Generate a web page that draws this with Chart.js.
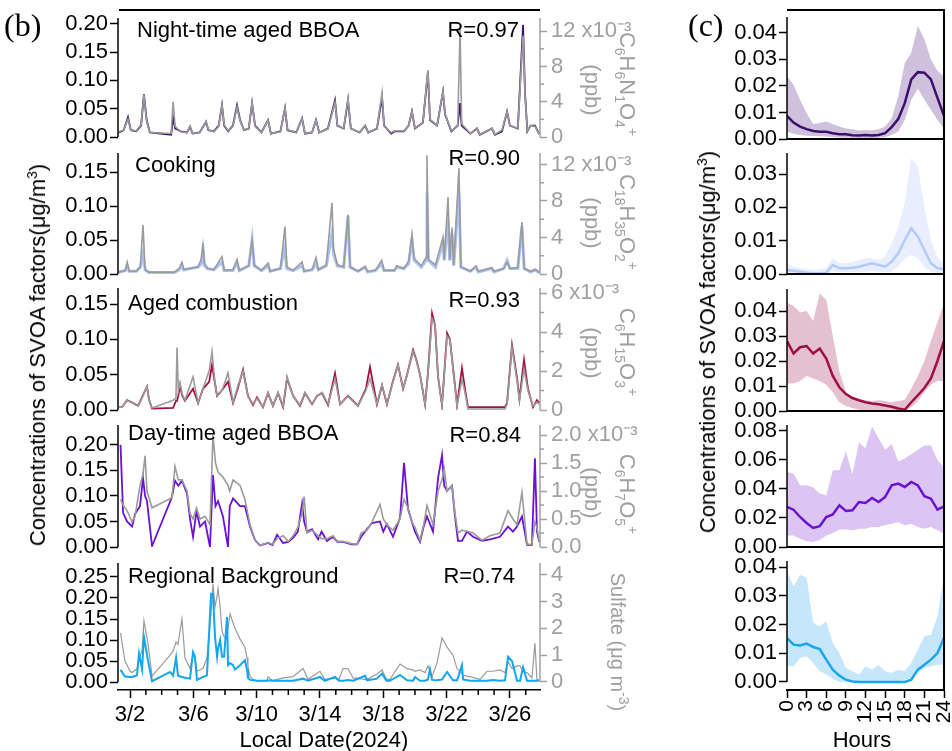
<!DOCTYPE html>
<html>
<head>
<meta charset="utf-8">
<script src="https://cdn.jsdelivr.net/npm/chart.js@4.4.1/dist/chart.umd.min.js"></script>
<style>
  body { margin: 0; background: #fff; }
  #page { position: relative; width: 952px; height: 751px; overflow: hidden;
          font-family: "Liberation Sans", Arial, sans-serif; color: #000; }
  canvas { position: absolute; top: 0; }
  .lbl { position: absolute; font-size: 22px; line-height: 22px; white-space: nowrap; }
  .serif { font-family: "Liberation Serif", "Times New Roman", serif; font-size: 32px; line-height: 32px; }
  .rotL, .rotR { position: absolute; font-size: 22px; line-height: 22px; white-space: nowrap; }
  .rotL { transform: translate(-50%, -50%) rotate(-90deg); }
  .rotR { transform: translate(-50%, -50%) rotate(90deg); color: #a0a0a0; }
  .ctr { transform: translateX(-50%); }
  .rgt { transform: translateX(-100%); }
  sub, sup { font-size: 14px; line-height: 0; }
  .hline, .vline { position: absolute; background: #000; }
</style>
</head>
<body>
<div id="page">
  <canvas id="b1" width="680" height="751" style="left:0"></canvas>
  <canvas id="b2" width="680" height="751" style="left:0"></canvas>
  <canvas id="b3" width="680" height="751" style="left:0"></canvas>
  <canvas id="b4" width="680" height="751" style="left:0"></canvas>
  <canvas id="b5" width="680" height="751" style="left:0"></canvas>
  <canvas id="c1" width="272" height="751" style="left:680px"></canvas>
  <canvas id="c2" width="272" height="751" style="left:680px"></canvas>
  <canvas id="c3" width="272" height="751" style="left:680px"></canvas>
  <canvas id="c4" width="272" height="751" style="left:680px"></canvas>
  <canvas id="c5" width="272" height="751" style="left:680px"></canvas>

  <div class="hline" style="left:119px;top:9px;width:421px;height:1.5px"></div>
  <div class="hline" style="left:787px;top:9px;width:158px;height:2px"></div>
  <div class="vline" style="left:943px;top:9px;width:2px;height:682px"></div>

  <div class="lbl serif" style="left:4px;top:9px">(b)</div>
  <div class="lbl serif" style="left:688px;top:9px">(c)</div>

  <div class="lbl" style="left:137px;top:19px">Night-time aged BBOA</div>
  <div class="lbl rgt" style="left:519px;top:19px">R=0.97</div>
  <div class="lbl" style="left:135px;top:154px">Cooking</div>
  <div class="lbl rgt" style="left:520px;top:147px">R=0.90</div>
  <div class="lbl" style="left:128px;top:292px">Aged combustion</div>
  <div class="lbl rgt" style="left:520px;top:289px">R=0.93</div>
  <div class="lbl" style="left:128px;top:422px">Day-time aged BBOA</div>
  <div class="lbl rgt" style="left:521px;top:424px">R=0.84</div>
  <div class="lbl" style="left:128px;top:565px">Regional Background</div>
  <div class="lbl rgt" style="left:515px;top:565px">R=0.74</div>

  <div class="rotL" style="left:38px;top:355px">Concentrations of SVOA factors(μg/m<sup>3</sup>)</div>
  <div class="rotL" style="left:708px;top:342px">Concentrations of SVOA factors(μg/m<sup>3</sup>)</div>

  <div class="rotR" style="left:592px;top:90px">(ppb)</div>
  <div class="rotR" style="left:627px;top:84px">C<sub>6</sub>H<sub>6</sub>N<sub>1</sub>O<sub>4</sub><sup>+</sup></div>
  <div class="rotR" style="left:592px;top:223px">(ppb)</div>
  <div class="rotR" style="left:627px;top:222px">C<sub>18</sub>H<sub>35</sub>O<sub>2</sub><sup>+</sup></div>
  <div class="rotR" style="left:592px;top:353px">(ppb)</div>
  <div class="rotR" style="left:627px;top:352px">C<sub>6</sub>H<sub>15</sub>O<sub>3</sub><sup>+</sup></div>
  <div class="rotR" style="left:592px;top:493px">(ppb)</div>
  <div class="rotR" style="left:627px;top:494px">C<sub>6</sub>H<sub>7</sub>O<sub>5</sub><sup>+</sup></div>
  <div class="rotR" style="left:618px;top:642px;font-size:20px">Sulfate (μg m<sup>-3</sup>)</div>

  <div class="lbl ctr" style="left:324px;top:729px">Local Date(2024)</div>
  <div class="lbl ctr" style="left:862px;top:729px">Hours</div>
</div>

<script>
// ---- time series, panel (b): day of March 2024, factor (μg/m3), tracer ----
const nightDays = [1.30,1.60,1.87,2.05,2.40,2.70,2.88,3.05,3.25,4.60,4.72,4.85,5.20,5.60,5.79,5.95,6.40,6.80,6.95,7.30,7.60,7.81,7.95,8.20,8.50,8.76,8.95,9.20,9.50,9.71,9.90,10.30,10.72,10.90,11.50,11.79,11.95,12.50,12.87,13.05,13.50,13.75,13.95,14.50,14.95,15.10,15.50,15.77,15.95,16.50,16.85,17.05,17.60,17.92,18.05,18.50,18.74,19.30,19.60,19.81,20.00,20.50,20.82,20.95,21.40,21.77,21.90,22.30,22.70,22.85,22.95,23.50,23.92,24.10,24.87,25.05,25.50,25.82,26.00,26.50,26.83,26.95,27.10,27.30,27.58,27.85];
const nightFactor = [0.008,0.012,0.035,0.012,0.010,0.020,0.076,0.030,0.008,0.004,0.035,0.015,0.010,0.008,0.018,0.006,0.008,0.027,0.012,0.010,0.020,0.056,0.020,0.010,0.020,0.056,0.030,0.012,0.015,0.060,0.020,0.008,0.030,0.006,0.010,0.051,0.012,0.008,0.033,0.006,0.008,0.030,0.008,0.015,0.065,0.020,0.015,0.065,0.015,0.008,0.020,0.008,0.015,0.070,0.020,0.006,0.010,0.010,0.020,0.045,0.015,0.025,0.115,0.030,0.020,0.080,0.040,0.010,0.020,0.060,0.020,0.006,0.015,0.004,0.015,0.004,0.010,0.045,0.020,0.015,0.198,0.080,0.010,0.020,0.020,0.005];
const nightTracer = [0.6,0.8,2.0,0.8,0.7,1.4,4.8,1.8,0.5,0.4,4.0,1.2,0.6,0.5,1.2,0.4,0.5,1.8,0.8,0.6,1.2,3.6,1.4,0.7,1.2,3.4,1.8,0.8,1.0,3.9,1.2,0.5,1.9,0.4,0.6,3.3,0.8,0.5,2.1,0.4,0.5,1.9,0.5,0.9,3.9,1.3,1.0,4.4,1.0,0.5,1.3,0.5,1.0,5.0,1.2,0.5,0.7,0.7,1.3,2.9,1.0,1.6,7.6,2.0,1.3,5.2,2.6,0.7,1.2,12.2,1.5,0.4,1.0,0.3,1.0,0.3,0.8,2.9,1.3,1.0,11.5,5.0,0.7,1.3,1.2,0.3];

const cookDays = [1.30,1.70,1.82,1.95,2.40,2.65,2.82,2.95,3.20,4.80,5.10,5.28,5.40,5.80,6.30,6.50,6.61,6.70,6.90,7.30,7.81,7.95,8.50,8.76,8.90,9.50,9.71,9.85,10.30,10.72,10.85,11.50,11.79,11.90,12.30,12.87,13.00,13.50,13.75,13.90,14.40,14.76,14.85,15.10,15.50,15.77,15.90,16.40,16.85,17.00,17.50,17.90,18.05,18.70,18.85,19.30,19.60,19.81,19.95,20.40,20.70,20.76,20.85,21.30,21.77,21.85,22.09,22.20,22.34,22.45,22.78,22.90,23.50,23.85,24.00,24.85,25.00,25.60,25.82,26.00,26.50,26.76,26.90,27.30,27.60,27.85];
const cookFactor = [0.003,0.005,0.012,0.004,0.004,0.010,0.030,0.006,0.002,0.002,0.006,0.012,0.006,0.008,0.010,0.015,0.035,0.012,0.008,0.006,0.018,0.005,0.005,0.016,0.005,0.012,0.050,0.012,0.005,0.012,0.004,0.008,0.040,0.008,0.005,0.012,0.004,0.006,0.015,0.006,0.012,0.060,0.030,0.012,0.010,0.085,0.010,0.004,0.010,0.003,0.005,0.015,0.005,0.005,0.010,0.008,0.015,0.050,0.020,0.010,0.020,0.120,0.020,0.010,0.045,0.020,0.080,0.020,0.060,0.012,0.120,0.010,0.004,0.010,0.003,0.008,0.003,0.008,0.020,0.008,0.008,0.070,0.008,0.003,0.006,0.002];
const cookTracer = [0.2,0.4,1.3,0.3,0.3,0.8,5.4,0.5,0.2,0.2,0.6,1.3,0.5,0.6,0.8,1.6,3.4,1.2,0.6,0.5,1.9,0.4,0.5,1.6,0.4,0.9,3.7,1.0,0.4,1.2,0.3,0.6,5.2,0.8,0.4,1.3,0.3,0.5,1.8,0.5,1.0,7.8,2.8,1.0,0.8,6.5,0.8,0.3,0.8,0.3,0.4,1.5,0.4,0.4,0.9,0.6,1.4,4.3,1.7,0.9,1.8,13.0,1.6,1.0,4.0,1.6,8.4,1.5,5.1,1.0,11.6,0.8,0.3,0.9,0.3,0.7,0.3,0.6,1.3,0.6,0.7,5.7,0.6,0.3,0.5,0.2];

const agedDays = [1.30,1.49,1.81,2.19,2.51,2.80,3.07,3.20,3.39,4.72,4.90,4.97,5.05,5.16,5.30,5.47,5.98,6.30,6.61,7.00,7.18,7.35,7.50,7.81,8.19,8.51,8.80,9.14,9.45,9.77,10.02,10.40,10.72,11.03,11.35,11.67,11.92,12.30,12.74,13.05,13.50,13.81,14.13,14.51,14.95,15.27,15.77,16.40,16.90,17.16,17.60,17.92,18.23,18.60,18.93,19.25,19.50,19.88,20.10,20.32,20.64,20.82,21.08,21.27,21.46,21.71,22.03,22.21,22.47,22.66,22.97,23.16,23.35,24.50,25.69,25.82,26.13,26.45,26.60,26.89,27.14,27.46,27.71,27.85];
const agedFactor = [0.004,0.004,0.014,0.010,0.006,0.020,0.033,0.015,0.002,0.003,0.013,0.013,0.020,0.035,0.020,0.013,0.030,0.010,0.030,0.040,0.064,0.040,0.020,0.028,0.040,0.010,0.030,0.057,0.020,0.007,0.018,0.004,0.024,0.006,0.024,0.004,0.045,0.020,0.006,0.024,0.008,0.020,0.024,0.007,0.052,0.008,0.020,0.006,0.030,0.061,0.008,0.035,0.008,0.040,0.064,0.030,0.050,0.085,0.070,0.050,0.008,0.052,0.137,0.120,0.047,0.007,0.109,0.100,0.047,0.007,0.059,0.030,0.004,0.004,0.004,0.010,0.092,0.045,0.015,0.071,0.030,0.004,0.014,0.010];
const agedTracer = [0.15,0.15,0.5,0.35,0.2,0.7,1.2,0.5,0.1,0.5,0.6,3.2,1.0,1.4,0.8,0.5,1.7,0.35,1.1,2.0,3.0,1.5,0.7,1.0,1.9,0.4,1.2,2.0,0.7,0.3,0.6,0.15,0.9,0.2,0.9,0.2,1.7,0.7,0.25,0.9,0.3,0.7,0.9,0.3,1.6,0.3,0.7,0.2,1.0,1.6,0.3,1.3,0.3,1.4,2.3,1.1,1.8,3.0,2.5,1.8,0.3,1.8,4.7,4.4,1.7,0.25,3.8,3.6,1.6,0.2,1.6,0.9,0.05,0.05,0.05,0.3,3.2,1.5,0.5,2.1,1.0,0.2,0.4,0.3];

const dayDays = [1.40,1.56,1.81,2.13,2.32,2.63,2.82,2.95,3.07,3.39,4.65,4.84,5.05,5.28,5.60,5.79,5.98,6.20,6.42,6.74,7.05,7.24,7.40,7.56,7.87,8.19,8.30,8.51,8.95,9.26,9.58,9.90,10.21,10.72,11.00,11.29,11.67,12.00,12.30,12.60,12.87,13.00,13.18,13.50,13.88,14.10,14.44,14.82,15.10,15.46,16.00,16.34,16.60,16.97,17.29,17.79,18.00,18.23,18.61,19.06,19.31,19.56,19.80,20.00,20.32,20.55,20.76,21.14,21.46,21.71,21.85,22.03,22.34,22.53,22.72,22.97,23.29,23.67,24.24,24.74,25.37,25.88,26.19,26.45,26.76,27.08,27.39,27.58,27.71,27.85];
const dayFactor = [0.200,0.067,0.050,0.040,0.065,0.080,0.135,0.100,0.090,0.002,0.098,0.130,0.120,0.130,0.105,0.055,0.020,0.070,0.040,0.050,0.000,0.141,0.080,0.090,0.060,0.000,0.080,0.095,0.080,0.080,0.040,0.013,0.003,0.008,0.004,0.024,0.008,0.010,0.018,0.030,0.085,0.050,0.030,0.035,0.015,0.030,0.012,0.020,0.010,0.010,0.005,0.005,0.020,0.035,0.047,0.050,0.030,0.045,0.020,0.057,0.165,0.075,0.050,0.030,0.010,0.040,0.060,0.030,0.135,0.180,0.120,0.110,0.120,0.060,0.012,0.012,0.030,0.020,0.012,0.015,0.020,0.040,0.030,0.040,0.060,0.004,0.004,0.174,0.030,0.010];
const dayTracer = [0.85,0.75,0.65,0.45,0.55,1.10,1.30,1.63,1.00,0.70,0.88,1.44,1.20,1.20,1.00,0.60,0.50,0.70,0.50,0.55,0.40,2.00,1.50,1.34,1.25,1.10,1.00,1.20,1.10,0.85,0.40,0.12,0.03,0.08,0.05,0.15,0.20,0.10,0.20,0.35,0.60,0.90,0.25,0.30,0.20,0.15,0.15,0.20,0.10,0.10,0.06,0.05,0.25,0.30,0.45,0.76,0.50,0.40,0.30,0.50,0.85,0.70,0.45,0.35,0.12,0.40,0.74,0.40,1.00,1.20,1.40,1.00,1.10,0.60,0.25,0.30,0.28,0.25,0.12,0.20,0.25,0.65,0.50,0.40,0.98,0.05,0.05,0.45,0.35,0.10];

const regDays = [1.40,1.68,2.00,2.13,2.44,2.57,2.76,2.88,3.14,3.39,4.53,4.72,4.91,5.03,5.28,5.47,5.79,5.98,6.10,6.23,6.61,6.86,7.12,7.24,7.37,7.50,7.56,7.69,7.81,7.94,8.13,8.19,8.32,8.51,8.63,8.95,9.26,9.39,9.45,9.58,9.77,10.02,10.65,10.72,11.00,11.67,12.30,12.93,13.24,14.00,14.30,14.95,15.20,15.46,15.77,16.09,16.85,16.97,17.60,17.92,18.20,18.42,19.06,19.50,19.88,20.00,20.32,20.64,20.82,20.95,21.08,21.39,21.71,22.03,22.40,22.66,22.97,23.04,23.48,24.11,24.55,24.93,25.37,25.69,25.88,26.13,26.45,26.64,26.83,27.08,27.39,27.58,27.71,27.85];
const regFactor = [0.029,0.013,0.012,0.012,0.016,0.068,0.030,0.107,0.050,0.002,0.024,0.015,0.058,0.015,0.012,0.010,0.008,0.071,0.060,0.005,0.012,0.016,0.210,0.210,0.107,0.060,0.080,0.100,0.060,0.060,0.155,0.040,0.045,0.040,0.030,0.040,0.052,0.030,0.010,0.005,0.004,0.003,0.003,0.004,0.003,0.003,0.003,0.008,0.003,0.012,0.003,0.012,0.003,0.003,0.005,0.003,0.015,0.004,0.008,0.020,0.003,0.003,0.017,0.004,0.003,0.012,0.003,0.003,0.006,0.030,0.005,0.004,0.006,0.024,0.004,0.004,0.040,0.006,0.003,0.003,0.003,0.005,0.003,0.004,0.060,0.050,0.003,0.003,0.035,0.003,0.003,0.003,0.003,0.005];
const regSulfate = [1.83,0.78,0.40,0.35,0.50,0.80,1.20,2.28,1.40,0.22,1.00,1.16,1.50,1.40,2.35,0.90,0.50,1.00,0.90,0.40,0.50,0.90,2.60,3.66,2.80,3.20,3.50,2.80,1.90,1.70,1.60,2.00,2.54,2.20,2.00,1.60,1.30,0.90,0.60,0.20,0.10,0.04,0.05,0.20,0.05,0.15,0.20,0.50,0.10,0.40,0.10,0.15,0.10,0.50,0.50,0.15,0.10,0.10,0.30,0.45,0.10,0.10,0.67,0.50,0.45,0.40,0.45,0.35,0.60,0.40,0.20,0.70,1.64,1.30,1.00,0.50,0.30,0.25,0.20,0.10,0.40,0.40,0.45,0.35,0.75,0.50,0.60,0.60,0.40,0.35,0.15,1.45,0.05,0.05];

const dateTickDays = [2, 6, 10, 14, 18, 22, 26];
const dateTickLabels = ['3/2', '3/6', '3/10', '3/14', '3/18', '3/22', '3/26'];

// ---- diurnal cycles, panel (c): mean with shaded range ----
const hours = [0,1,2,3,4,5,6,7,8,9,10,11,12,13,14,15,16,17,18,19,20,21,22,23,24];
const nightMean = [0.0087,0.0062,0.0047,0.0037,0.0030,0.0027,0.0027,0.0022,0.0018,0.0018,0.0014,0.0013,0.0015,0.0013,0.0015,0.0022,0.0045,0.0075,0.0135,0.0225,0.0252,0.0250,0.0225,0.0155,0.0087];
const nightHigh = [0.0237,0.0205,0.0148,0.0097,0.0057,0.0060,0.0066,0.0057,0.0047,0.0040,0.0037,0.0032,0.0034,0.0032,0.0037,0.0047,0.0078,0.0160,0.0287,0.0325,0.0427,0.0376,0.0300,0.0256,0.0237];
const nightLow = [0.0028,0.0020,0.0015,0.0012,0.0011,0.0010,0.0009,0.0008,0.0006,0.0005,0.0005,0.0004,0.0004,0.0004,0.0005,0.0008,0.0015,0.0028,0.0072,0.0148,0.0190,0.0148,0.0110,0.0072,0.0040];

const cookMean = [0.0012,0.0010,0.0007,0.0004,0.0002,0.0002,0.0004,0.0027,0.0017,0.0017,0.0019,0.0022,0.0027,0.0032,0.0027,0.0022,0.0037,0.0062,0.0102,0.0137,0.0112,0.0072,0.0032,0.0017,0.0014];
const cookHigh = [0.0032,0.0022,0.0017,0.0014,0.0012,0.0014,0.0017,0.0047,0.0032,0.0032,0.0037,0.0042,0.0047,0.0047,0.0042,0.0052,0.0092,0.0142,0.0212,0.0347,0.0322,0.0202,0.0102,0.0047,0.0032];
const cookLow = [0.0002,0.0002,0.0001,0.0001,0.0000,0.0000,0.0001,0.0008,0.0005,0.0005,0.0005,0.0006,0.0007,0.0008,0.0007,0.0006,0.0007,0.0022,0.0047,0.0057,0.0047,0.0022,0.0007,0.0002,0.0002];

const agedMean = [0.0280,0.0230,0.0255,0.0260,0.0230,0.0250,0.0210,0.0140,0.0095,0.0068,0.0052,0.0043,0.0035,0.0030,0.0027,0.0022,0.0017,0.0010,0.0005,0.0035,0.0063,0.0092,0.0130,0.0200,0.0280];
const agedHigh = [0.0434,0.0420,0.0395,0.0400,0.0360,0.0470,0.0445,0.0300,0.0160,0.0075,0.0055,0.0045,0.0043,0.0040,0.0043,0.0040,0.0035,0.0040,0.0045,0.0090,0.0140,0.0200,0.0280,0.0356,0.0430];
const agedLow = [0.0110,0.0110,0.0120,0.0140,0.0130,0.0120,0.0105,0.0075,0.0035,0.0020,0.0012,0.0005,0.0003,0.0002,0.0002,0.0002,0.0002,0.0002,0.0002,0.0015,0.0040,0.0075,0.0105,0.0120,0.0120];

const dayMean = [0.0276,0.0257,0.0207,0.0166,0.0131,0.0143,0.0207,0.0225,0.0287,0.0248,0.0253,0.0310,0.0303,0.0338,0.0310,0.0345,0.0425,0.0437,0.0414,0.0448,0.0425,0.0350,0.0333,0.0257,0.0280];
const dayHigh = [0.0517,0.0506,0.0425,0.0425,0.0410,0.0368,0.0356,0.0529,0.0529,0.0660,0.0500,0.0720,0.0680,0.0830,0.0750,0.0670,0.0710,0.0590,0.0610,0.0640,0.0670,0.0700,0.0700,0.0600,0.0550];
const dayLow = [0.0080,0.0080,0.0057,0.0040,0.0035,0.0046,0.0080,0.0097,0.0120,0.0120,0.0115,0.0126,0.0126,0.0138,0.0138,0.0150,0.0160,0.0172,0.0150,0.0160,0.0138,0.0126,0.0138,0.0115,0.0092];

const regMean = [0.0153,0.0130,0.0127,0.0134,0.0122,0.0115,0.0078,0.0043,0.0022,0.0008,0.0002,0,0,0,0,0,0,0,0,0.0008,0.0043,0.0060,0.0078,0.0101,0.0153];
const regHigh = [0.0386,0.0334,0.0374,0.0363,0.0206,0.0194,0.0212,0.0136,0.0101,0.0049,0.0037,0.0026,0.0055,0.0043,0.0060,0.0037,0.0031,0.0043,0.0037,0.0066,0.0113,0.0159,0.0165,0.0229,0.0369];
const regLow = [0.0055,0.0055,0.0084,0.0090,0.0066,0.0037,0.0026,0.0010,0,0,0,0,0,0,0,0,0,0,0.0008,0.0014,0.0031,0.0049,0.0055,0.0060,0.0060];

const GRAY = '#9b9b9b';
const AXIS_GRAY = '#a0a0a0';
const H = 751;

Chart.defaults.font.family = '"Liberation Sans", Arial, sans-serif';
Chart.defaults.font.size = 22;
Chart.defaults.color = '#000';

const pts = (xs, ys) => xs.map((x, i) => ({ x: x, y: ys[i] }));

// axis lines, minor ticks and zero baselines
const frame = {
  id: 'frame',
  afterDraw(chart, args, o) {
    const { ctx, chartArea: a, scales } = chart;
    const seg = (x1, y1, x2, y2, c, w) => {
      ctx.beginPath(); ctx.strokeStyle = c; ctx.lineWidth = w;
      ctx.moveTo(x1, y1); ctx.lineTo(x2, y2); ctx.stroke();
    };
    ctx.save();
    const y0 = scales.y.getPixelForValue(0);
    seg(a.left, a.top, a.left, y0, '#000', 1.5);
    if (o.zeroLine) seg(a.left, y0, a.right, y0, '#000', 2);
    const r = scales.y2;
    if (r) {
      seg(a.right, a.top, a.right, r.getPixelForValue(0), AXIS_GRAY, 1.5);
      if (o.minor) {
        for (let v = o.minor; v < r.max; v += o.minor) {
          const k = v / o.major;
          if (Math.abs(k - Math.round(k)) < 1e-6) continue;
          const py = r.getPixelForValue(v);
          seg(a.right, py, a.right + 4, py, AXIS_GRAY, 1.5);
        }
      }
    }
    if (o.dayTicks) {
      const s = scales.x;
      for (let d = Math.ceil(s.min); d <= s.max; d++) {
        if (dateTickDays.includes(d)) continue;
        const px = s.getPixelForValue(d);
        seg(px, a.bottom, px, a.bottom + 5, '#000', 1.5);
      }
    }
    ctx.restore();
  }
};

// fixed axis band: set the size and drop the label overhang padding
const fixHeight = (show) => s => {
  if (!show) return;
  s.height = 61; s.paddingLeft = 0; s.paddingRight = 0;
};

function timePanel(id, p) {
  const factorSet = {
    data: pts(p.days, p.factor), yAxisID: 'y', borderColor: p.color,
    borderWidth: p.factorWidth || 1.8, pointRadius: 0, tension: 0
  };
  const tracerSet = {
    data: pts(p.days, p.tracer), yAxisID: 'y2', borderColor: GRAY,
    borderWidth: p.tracerWidth || 1.6, pointRadius: 0, tension: 0
  };
  const sets = p.factorOnTop ? [factorSet, tracerSet] : [tracerSet, factorSet];
  new Chart(document.getElementById(id), {
    type: 'line',
    data: { datasets: sets },
    options: {
      responsive: false, animation: false, events: [],
      layout: { padding: { top: p.top, bottom: p.showX ? 0 : H - p.zero, left: 0, right: 0 } },
      plugins: {
        legend: { display: false }, tooltip: { enabled: false },
        frame: { minor: p.rMinor, major: p.rStep, dayTicks: p.showX }
      },
      scales: {
        x: {
          type: 'linear', min: 1.24, max: 27.9, display: !!p.showX,
          afterFit: fixHeight(p.showX),
          afterBuildTicks: s => { s.ticks = dateTickDays.map(v => ({ value: v })); },
          ticks: { autoSkip: false, maxRotation: 0, padding: 4, callback: (v, i) => dateTickLabels[i] },
          grid: { drawOnChartArea: false, tickLength: 8, tickColor: '#000', tickWidth: 1.5 },
          border: { display: true, color: '#000', width: 1.5 }
        },
        y: {
          position: 'left', min: p.yMin || 0, max: p.yMax,
          afterFit: s => { s.width = 118; },
          ticks: { stepSize: p.yStep, includeBounds: false, autoSkip: false, padding: 2, callback: v => v.toFixed(2) },
          grid: { drawOnChartArea: false, tickLength: 8, tickColor: '#000', tickWidth: 1.5 },
          border: { display: false }
        },
        y2: {
          position: 'right', min: p.rMin || 0, max: p.rMax,
          afterFit: s => { s.width = 140; },
          ticks: {
            stepSize: p.rStep, includeBounds: false, autoSkip: false, padding: 4, color: AXIS_GRAY,
            callback: (v, i, t) => {
              const s = p.rDigits ? v.toFixed(p.rDigits) : String(Math.round(v));
              return (p.rExp && i === t.length - 1) ? s + ' x10\u207B\u00B3' : s;
            }
          },
          grid: { drawOnChartArea: false, tickLength: 7, tickColor: AXIS_GRAY, tickWidth: 1.5 },
          border: { display: false }
        }
      }
    },
    plugins: [frame]
  });
}

function diurnalPanel(id, p) {
  new Chart(document.getElementById(id), {
    type: 'line',
    data: {
      datasets: [
        { data: pts(hours, p.mean), borderColor: p.color, borderWidth: 2.5, pointRadius: 0, tension: 0 },
        { data: pts(hours, p.high), borderColor: 'transparent', borderWidth: 0, pointRadius: 0,
          backgroundColor: p.fillColor, fill: '+1', tension: 0 },
        { data: pts(hours, p.low), borderColor: 'transparent', borderWidth: 0, pointRadius: 0, tension: 0 }
      ]
    },
    options: {
      responsive: false, animation: false, events: [],
      layout: { padding: { top: p.top, bottom: p.showX ? 0 : H - p.zero, left: 0, right: 8 } },
      plugins: { legend: { display: false }, tooltip: { enabled: false }, frame: { zeroLine: !p.showX } },
      scales: {
        x: {
          type: 'linear', min: 0, max: 24, display: !!p.showX,
          afterFit: fixHeight(p.showX),
          ticks: { stepSize: 3, autoSkip: false, minRotation: 90, maxRotation: 90, padding: 2, font: { size: 21 } },
          grid: { drawOnChartArea: false, tickLength: 8, tickColor: '#000', tickWidth: 1.5 },
          border: { display: true, color: '#000', width: 2 }
        },
        y: {
          position: 'left', min: p.yMin || 0, max: p.yMax,
          afterFit: s => { s.width = 107; },
          ticks: { stepSize: p.yStep, includeBounds: false, autoSkip: false, padding: 2, callback: v => v.toFixed(2) },
          grid: { drawOnChartArea: false, tickLength: 8, tickColor: '#000', tickWidth: 1.5 },
          border: { display: false }
        }
      }
    },
    plugins: [frame]
  });
}

timePanel('b1', { days: nightDays, factor: nightFactor, tracer: nightTracer, color: '#3c136e',
  top: 18, zero: 137, yMax: 0.2102, yStep: 0.05, rMax: 13.5, rStep: 4, rMinor: 2, rExp: true });
timePanel('b2', { days: cookDays, factor: cookFactor, tracer: cookTracer, color: '#a9c3f7', factorWidth: 3,
  top: 153, zero: 274, yMax: 0.178, yStep: 0.05, rMax: 13.26, rStep: 4, rMinor: 2, rExp: true });
timePanel('b3', { days: agedDays, factor: agedFactor, tracer: agedTracer, color: '#a3123f',
  top: 288, zero: 410, yMax: 0.1728, yStep: 0.05, rMax: 6.26, rStep: 2, rMinor: 1, rExp: true });
timePanel('b4', { days: dayDays, factor: dayFactor, tracer: dayTracer, color: '#6c10d6',
  top: 425, zero: 547, yMax: 0.239, yStep: 0.05, rMax: 2.18, rStep: 0.5, rMinor: 0.25, rDigits: 1, rExp: true });
timePanel('b5', { days: regDays, factor: regFactor, tracer: regSulfate, color: '#12a6f2', factorOnTop: true,
  factorWidth: 2, tracerWidth: 1.2, showX: true,
  top: 563, yMin: -0.019, yMax: 0.2833, yStep: 0.05, rMin: -0.30, rMax: 4.44, rStep: 1 });

diurnalPanel('c1', { mean: nightMean, high: nightHigh, low: nightLow, color: '#3d0f6b', fillColor: '#cfc1dd',
  top: 17, zero: 139, yMax: 0.046, yStep: 0.01 });
diurnalPanel('c2', { mean: cookMean, high: cookHigh, low: cookLow, color: '#b2c9fa', fillColor: '#e8eefd',
  top: 153, zero: 274, yMax: 0.0363, yStep: 0.01 });
diurnalPanel('c3', { mean: agedMean, high: agedHigh, low: agedLow, color: '#9d0f42', fillColor: '#e5c0cf',
  top: 289, zero: 411, yMax: 0.0488, yStep: 0.01 });
diurnalPanel('c4', { mean: dayMean, high: dayHigh, low: dayLow, color: '#6a12cf', fillColor: '#dcc5f2',
  top: 425, zero: 547, yMax: 0.0841, yStep: 0.02 });
diurnalPanel('c5', { mean: regMean, high: regHigh, low: regLow, color: '#1aa6ef', fillColor: '#c6e7fb',
  top: 561, yMin: -0.00279, yMax: 0.04216, yStep: 0.01, showX: true });
</script>
</body>
</html>
